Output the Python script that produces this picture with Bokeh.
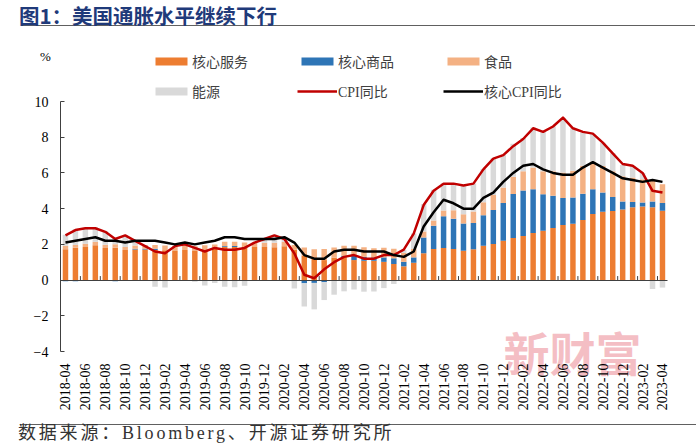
import numpy as np
import pandas as pd
from bokeh.plotting import figure
from bokeh.models import Range1d, LinearAxis, FixedTicker, Legend, LegendItem, Label, Div
from bokeh.layouts import column
from bokeh.embed import file_html
from bokeh.resources import INLINE

# ---------------- data ----------------
months = [str(p) for p in pd.period_range("2018-04", "2023-04", freq="M")]

services = [1.73, 1.81, 1.85, 1.95, 1.79, 1.81, 1.69, 1.71, 1.71,
            1.69, 1.67, 1.63, 1.69, 1.63, 1.69, 1.75, 1.87, 1.85, 1.81, 1.85, 1.85,
            1.84, 1.90, 1.70, 1.35, 1.18, 1.12, 1.26, 1.28, 1.12, 1.08, 1.08, 1.02,
            0.90, 0.77, 0.97, 1.50, 1.74, 1.80, 1.74, 1.64, 1.72, 1.92, 2.02, 2.20,
            2.36, 2.47, 2.64, 2.76, 2.92, 3.08, 3.16, 3.36, 3.70, 3.83, 3.87, 3.95,
            4.08, 4.12, 4.08, 3.88]
goods = [-0.06, -0.06, -0.02, -0.04, -0.04, -0.06, -0.02, 0.04, 0.04,
         0.06, 0.00, -0.04, -0.02, -0.04, -0.02, 0.00, 0.04, 0.06, 0.02, -0.02, -0.02,
         -0.02, 0.00, -0.06, -0.18, -0.16, -0.12, 0.00, 0.08, 0.26, 0.22, 0.19, 0.25,
         0.32, 0.25, 0.30, 0.89, 1.30, 1.77, 1.70, 1.53, 1.48, 1.71, 1.90, 2.12,
         2.46, 2.55, 2.45, 2.05, 1.80, 1.52, 1.47, 1.48, 1.39, 1.07, 0.78, 0.45,
         0.29, 0.22, 0.32, 0.43]
food = [0.19, 0.16, 0.19, 0.19, 0.19, 0.19, 0.16, 0.19, 0.22,
        0.22, 0.27, 0.28, 0.26, 0.27, 0.26, 0.24, 0.23, 0.24, 0.28, 0.27, 0.24,
        0.25, 0.25, 0.26, 0.48, 0.55, 0.62, 0.56, 0.56, 0.54, 0.54, 0.51, 0.54,
        0.53, 0.50, 0.49, 0.33, 0.30, 0.33, 0.47, 0.51, 0.64, 0.73, 0.84, 0.87,
        0.96, 1.08, 1.21, 1.29, 1.38, 1.42, 1.49, 1.56, 1.53, 1.49, 1.45, 1.42,
        1.38, 1.30, 1.16, 1.05]
energy = [0.62, 0.88, 0.88, 0.82, 0.76, 0.36, 0.66, 0.24, -0.05,
          -0.38, -0.41, -0.01, 0.10, -0.05, -0.29, -0.17, -0.38, -0.40, -0.32, -0.03, 0.25,
          0.45, 0.18, -0.41, -1.30, -1.48, -1.00, -0.82, -0.63, -0.53, -0.65, -0.64, -0.45,
          -0.22, 0.17, 0.85, 1.52, 1.72, 1.52, 1.50, 1.62, 1.57, 1.86, 2.06, 1.83,
          1.85, 1.85, 2.25, 2.20, 2.50, 3.05, 2.38, 1.85, 1.55, 1.30, 1.00, 0.62,
          0.63, 0.36, -0.50, -0.42]
cpi = [2.5, 2.8, 2.9, 2.9, 2.7, 2.3, 2.5, 2.2, 1.9,
       1.6, 1.5, 1.9, 2.0, 1.8, 1.6, 1.8, 1.7, 1.7, 1.8, 2.1, 2.3,
       2.5, 2.3, 1.5, 0.3, 0.1, 0.6, 1.0, 1.3, 1.4, 1.2, 1.2, 1.4,
       1.4, 1.7, 2.6, 4.2, 5.0, 5.4, 5.4, 5.3, 5.4, 6.2, 6.8, 7.0,
       7.5, 7.9, 8.5, 8.3, 8.6, 9.1, 8.5, 8.3, 8.2, 7.7, 7.1, 6.5,
       6.4, 6.0, 5.0, 4.9]
core_cpi = [2.1, 2.2, 2.3, 2.4, 2.2, 2.2, 2.1, 2.2, 2.2,
            2.2, 2.1, 2.0, 2.1, 2.0, 2.1, 2.2, 2.4, 2.4, 2.3, 2.3, 2.3,
            2.3, 2.4, 2.1, 1.4, 1.2, 1.2, 1.6, 1.7, 1.7, 1.6, 1.6, 1.6,
            1.4, 1.3, 1.6, 3.0, 3.8, 4.5, 4.3, 4.0, 4.0, 4.6, 4.9, 5.5,
            6.0, 6.4, 6.5, 6.2, 6.0, 5.9, 5.9, 6.3, 6.6, 6.3, 6.0, 5.7,
            5.6, 5.5, 5.6, 5.5]

bar_names = ["核心服务", "核心商品", "食品", "能源"]
bar_series = [services, goods, food, energy]
bar_colors = ["#ED7D31", "#2E75B6", "#F4B183", "#D9D9D9"]
line_names = ["CPI同比", "核心CPI同比"]
line_series = [cpi, core_cpi]
line_colors = ["#C00000", "#000000"]
y_ticks = [-4, -2, 0, 2, 4, 6, 8, 10]

title_text = "图1：美国通胀水平继续下行"
source_text = "数据来源：Bloomberg、开源证券研究所"
unit_text = "%"
watermark_text = "新财富"

SERIF = "Liberation Serif, Noto Sans CJK SC"

# ---------------- layout constants (pixels) ----------------
FIG_W, FIG_H = 684, 386
FIG_TOP = 32          # page y of the figure's top edge
PX_PER_CAT = 9.95
PX_PER_UNIT = 250.0 / 14.0
AXIS_X_PX = 60        # x of the value axis inside the figure
TOP_TICK_PAGE_Y = 101 # page y of the top tick


def fy(page_y):
    """screen y (from figure bottom) for a page y"""
    return FIG_H - (page_y - FIG_TOP)


n = len(months)
y_lo, y_hi = min(y_ticks), max(y_ticks)
xs = -0.5 - AXIS_X_PX / PX_PER_CAT
xe = xs + FIG_W / PX_PER_CAT
ye = y_hi + (TOP_TICK_PAGE_Y - FIG_TOP) / PX_PER_UNIT
ys = ye - FIG_H / PX_PER_UNIT

x = np.arange(n)

p = figure(width=FIG_W, height=FIG_H,
           x_range=Range1d(xs, xe), y_range=Range1d(ys, ye),
           output_backend="svg", toolbar_location=None,
           x_axis_location=None, y_axis_location=None,
           min_border=0)
p.outline_line_color = None
p.grid.visible = False
p.background_fill_color = "white"
p.border_fill_color = "white"

# watermark (behind everything)
p.add_layout(Label(x=572, y=fy(350), x_units="screen", y_units="screen", text=watermark_text,
                   text_align="center", text_baseline="middle", level="underlay",
                   text_font="Noto Sans CJK SC", text_font_size="46px", text_font_style="bold",
                   text_color="#F2B3BA", text_alpha=0.85))

# stacked bars (positive and negative stacked separately)
pos = np.zeros(n)
neg = np.zeros(n)
bar_renderers = []
for name, vals, color in zip(bar_names, bar_series, bar_colors):
    v = np.array(vals, dtype=float)
    bottom = np.where(v >= 0, pos, neg + v)
    top = np.where(v >= 0, pos + v, neg)
    pos = pos + np.clip(v, 0, None)
    neg = neg + np.clip(v, None, 0)
    r = p.vbar(x=x, bottom=bottom, top=top, width=0.55, fill_color=color, line_color=None)
    bar_renderers.append(r)

line_renderers = []
for name, vals, color in zip(line_names, line_series, line_colors):
    r = p.line(x, vals, line_color=color, line_width=2.5, line_join="round")
    line_renderers.append(r)

# value axis at the left edge of the categories
yaxis = LinearAxis(fixed_location=-0.5, bounds=(y_lo, y_hi),
                   ticker=FixedTicker(ticks=y_ticks, minor_ticks=[]))
yaxis.major_tick_in = 4
yaxis.major_tick_out = 0
yaxis.minor_tick_line_color = None
yaxis.axis_line_color = "#404040"
yaxis.major_tick_line_color = "#404040"
yaxis.major_label_standoff = 12
yaxis.major_label_text_font = "Liberation Serif"
yaxis.major_label_text_font_size = "14px"
yaxis.major_label_text_color = "#000000"
p.add_layout(yaxis, "left")

# category labels hanging below the bottom of the value range
label_ticks = list(range(0, n, 2))
xlab = LinearAxis(fixed_location=y_lo, ticker=FixedTicker(ticks=label_ticks, minor_ticks=[]))
xlab.major_label_overrides = {int(i): months[i] for i in label_ticks}
xlab.major_label_orientation = np.pi / 2
xlab.axis_line_color = None
xlab.major_tick_line_color = None
xlab.minor_tick_line_color = None
xlab.major_label_standoff = 6
xlab.major_label_text_font = "Liberation Serif"
xlab.major_label_text_font_size = "14px"
xlab.major_label_text_color = "#000000"
p.add_layout(xlab, "below")

# category axis line through zero
xzero = LinearAxis(fixed_location=0, bounds=(-0.5, n - 0.5), ticker=FixedTicker(ticks=[], minor_ticks=[]))
xzero.axis_line_color = "#404040"
xzero.major_tick_line_color = None
xzero.minor_tick_line_color = None
p.add_layout(xzero, "below")

# tick marks between every second category, pointing up from the zero line
boundaries = [i + 0.5 for i in range(1, n - 1, 2)]
tick_len = 4.0 / PX_PER_UNIT
p.segment(x0=boundaries, y0=[0] * len(boundaries), x1=boundaries, y1=[tick_len] * len(boundaries),
          line_color="#404040", line_width=1)

# legend
items = [LegendItem(label=nm, renderers=[r]) for nm, r in zip(bar_names, bar_renderers)]
items += [LegendItem(label=nm, renderers=[r]) for nm, r in zip(line_names, line_renderers)]
legend = Legend(items=items, location=(151, fy(101)), orientation="horizontal", ncols=3,
                glyph_width=40, glyph_height=10, label_standoff=1,
                label_width=95, label_height=16, spacing=10,
                padding=0, margin=0, border_line_color=None, background_fill_alpha=0,
                label_text_font=SERIF, label_text_font_size="14px",
                label_text_color="#404040")
p.add_layout(legend)

# "%" unit label
p.add_layout(Label(x=45, y=fy(56), x_units="screen", y_units="screen", text=unit_text,
                   text_align="center", text_baseline="middle",
                   text_font="Liberation Serif", text_font_size="13px", text_color="#000000"))

title_div = Div(width=684, height=22, text=(
    '<div style="font-family:\'Noto Sans CJK SC\';font-size:20.5px;font-weight:bold;'
    'color:#1F3A7A;line-height:20px;padding-left:14px;white-space:nowrap">'
    + title_text + '</div>'
    '<div style="margin-left:16px;width:674px;border-top:1.5px solid #606060;margin-top:0px"></div>'))

footer_div = Div(width=684, height=20, text=(
    '<div style="margin-left:15px;width:676px;border-top:1.5px solid #606060;margin-top:1px"></div>'
    '<div style="font-family:\'Liberation Serif\',\'Noto Sans CJK SC\';font-size:18px;'
    'color:#333333;line-height:17px;padding-left:13px;letter-spacing:2.8px;white-space:nowrap">'
    + source_text + '</div>'))

layout = column(title_div, p, footer_div, spacing=0)

with open("out.html", "w") as f:
    f.write(file_html(layout, INLINE))
